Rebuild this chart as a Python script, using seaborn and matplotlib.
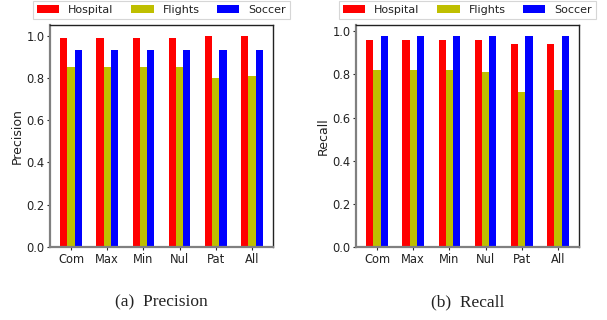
import matplotlib
matplotlib.use("Agg")
import matplotlib.pyplot as plt
import seaborn as sns
import pandas as pd

categories = ["Com", "Max", "Min", "Nul", "Pat", "All"]
datasets = ["Hospital", "Flights", "Soccer"]
precision_hospital = [0.99, 0.99, 0.99, 0.99, 1.00, 1.00]
precision_flights = [0.85, 0.85, 0.85, 0.85, 0.80, 0.81]
precision_soccer = [0.93, 0.93, 0.93, 0.93, 0.93, 0.93]
recall_hospital = [0.96, 0.96, 0.96, 0.96, 0.94, 0.94]
recall_flights = [0.82, 0.82, 0.82, 0.81, 0.72, 0.73]
recall_soccer = [0.98, 0.98, 0.98, 0.98, 0.98, 0.98]
colors = ["#ff0000", "#bfbf00", "#0000ff"]

def make_df(h, f, s):
    rows = []
    for name, vals in zip(datasets, [h, f, s]):
        for c, v in zip(categories, vals):
            rows.append({"cat": c, "ds": name, "val": v})
    return pd.DataFrame(rows)

sns.set_style("ticks")
plt.rcParams['font.family'] = ['DejaVu Sans']

fig = plt.figure(figsize=(6.07, 3.2), dpi=100)
axes = [fig.add_axes([50/607, 1-247/320, 223/607, 222/320]),
        fig.add_axes([356/607, 1-247/320, 223/607, 222/320])]
dfs = [make_df(precision_hospital, precision_flights, precision_soccer),
       make_df(recall_hospital, recall_flights, recall_soccer)]
ylabels = ["Precision", "Recall"]
captions = ["(a)  Precision", "(b)  Recall"]

for ax, df, yl, cap in zip(axes, dfs, ylabels, captions):
    sns.barplot(data=df, x="cat", y="val", hue="ds", palette=colors, width=0.6,
                ax=ax, saturation=1, errorbar=None, linewidth=0)
    ax.set_xlim(-0.58, 5.58)
    ax.margins(y=0.05)
    ax.autoscale(axis='y')
    ax.set_ylim(bottom=0)
    ax.set_yticks([0.0, 0.2, 0.4, 0.6, 0.8, 1.0])
    ax.set_yticklabels(["0.0", "0.2", "0.4", "0.6", "0.8", "1.0"])
    ax.set_xlabel("")
    ax.set_ylabel(yl, fontsize=9, labelpad=2, color="#222222")
    ax.tick_params(labelsize=8.3, length=2, width=0.8, pad=2, labelcolor="#222222")
    for side in ["left", "bottom"]:
        ax.spines[side].set_color("#808080")
        ax.spines[side].set_linewidth(1.6)
    for side in ["top", "right"]:
        ax.spines[side].set_color("#222222")
        ax.spines[side].set_linewidth(1.0)
        ax.spines[side].set_visible(True)
    leg = ax.legend(loc="lower center", bbox_to_anchor=(0.5, 1.027), ncol=3,
                    fontsize=8, frameon=True, borderaxespad=0, handlelength=2.0,
                    columnspacing=1.6, borderpad=0.35,
                    fancybox=False, edgecolor="#cccccc")
    for t in leg.get_texts():
        t.set_color("#222222")
    leg.get_frame().set_linewidth(0.8)
    ax.text(0.5, -0.25, cap, transform=ax.transAxes, ha="center", va="center",
            fontsize=12.5, family=["Liberation Serif", "DejaVu Serif"], color="#222222")

fig.savefig("out.png", dpi=100)
